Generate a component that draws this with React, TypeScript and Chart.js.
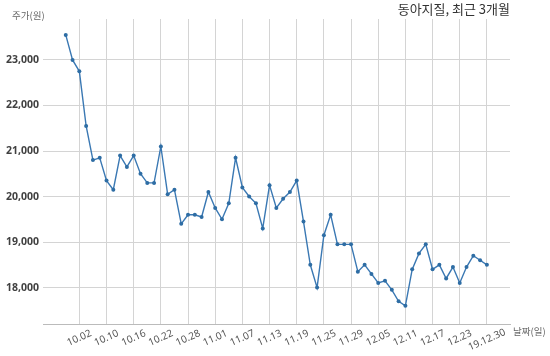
import React, { useEffect, useRef } from "react";
import { Chart, registerables } from "chart.js";

Chart.register(...registerables);

const dates = [
  "09.30", "10.01", "10.02", "10.04", "10.07", "10.08", "10.10", "10.11", "10.14", "10.15",
  "10.16", "10.17", "10.18", "10.21", "10.22", "10.23", "10.24", "10.25", "10.28", "10.29",
  "10.30", "10.31", "11.01", "11.04", "11.05", "11.06", "11.07", "11.08", "11.11", "11.12",
  "11.13", "11.14", "11.15", "11.18", "11.19", "11.20", "11.21", "11.22", "11.25", "11.26",
  "11.27", "11.28", "11.29", "12.02", "12.03", "12.04", "12.05", "12.06", "12.09", "12.10",
  "12.11", "12.12", "12.13", "12.16", "12.17", "12.18", "12.19", "12.20", "12.23", "12.24",
  "12.26", "12.27", "12.30",
];

const prices = [
  23550, 23000, 22750, 21550, 20800, 20850, 20350, 20150, 20900, 20650,
  20900, 20500, 20300, 20300, 21100, 20050, 20150, 19400, 19600, 19600,
  19550, 20100, 19750, 19500, 19850, 20850, 20200, 20000, 19850, 19300,
  20250, 19750, 19950, 20100, 20350, 19450, 18500, 18000, 19150, 19600,
  18950, 18950, 18950, 18350, 18500, 18300, 18100, 18150, 17950, 17700,
  17600, 18400, 18750, 18950, 18400, 18500, 18200, 18450, 18100, 18450,
  18700, 18600, 18500,
];

const tickDates = [
  "10.02", "10.10", "10.16", "10.22", "10.28", "11.01", "11.07", "11.13",
  "11.19", "11.25", "11.29", "12.05", "12.11", "12.17", "12.23", "12.30",
];
const tickLabels = [
  "10.02", "10.10", "10.16", "10.22", "10.28", "11.01", "11.07", "11.13",
  "11.19", "11.25", "11.29", "12.05", "12.11", "12.17", "12.23", "19.12.30",
];
const yTicks = [18000, 19000, 20000, 21000, 22000, 23000];

const titleText = "동아지질, 최근 3개월";
const yAxisTitle = "주가(원)";
const xAxisTitle = "날짜(일)";

const LINE_COLOR = "#3a78b3";
const POINT_COLOR = "#2e6da4";
const GRID_COLOR = "#d4d4d4";

export default function App() {
  const ref = useRef<HTMLCanvasElement | null>(null);

  useEffect(() => {
    if (!ref.current) return;
    const tickIdx = tickDates.map((d) => dates.indexOf(d));
    const points = prices.map((v, i) => ({ x: i, y: v }));

    const labelPlugin = {
      id: "labels",
      afterDraw(chart: any) {
        const ctx = chart.ctx as CanvasRenderingContext2D;
        const xs = chart.scales.x;
        const area = chart.chartArea;
        ctx.save();
        // x tick labels, rotated and centered on ticks
        ctx.font = '10px "Noto Sans", "Noto Sans CJK KR", sans-serif';
        ctx.fillStyle = "#555555";
        ctx.textAlign = "center";
        ctx.textBaseline = "middle";
        const ang = (-24 * Math.PI) / 180;
        tickIdx.forEach((idx, k) => {
          const px = xs.getPixelForValue(idx);
          const label = tickLabels[k];
          const w = ctx.measureText(label).width;
          const cy = area.bottom + 11 + (w / 2) * Math.sin(-ang) * 0.6;
          ctx.save();
          ctx.translate(px, cy);
          ctx.rotate(ang);
          ctx.fillText(label, 0, 0);
          ctx.restore();
        });
        // title
        ctx.font = '13px "Noto Sans CJK KR", sans-serif';
        ctx.fillStyle = "#333333";
        ctx.textAlign = "right";
        ctx.textBaseline = "middle";
        ctx.fillText(titleText, area.right, 9);
        // axis titles
        ctx.font = '9.5px "Noto Sans CJK KR", sans-serif';
        ctx.fillStyle = "#666666";
        ctx.textAlign = "left";
        ctx.fillText(yAxisTitle, 12, 15);
        ctx.fillText(xAxisTitle, area.right + 3, area.bottom + 7);
        ctx.restore();
      },
    };

    const chart = new Chart(ref.current, {
      type: "line",
      data: {
        datasets: [
          {
            data: points,
            borderColor: LINE_COLOR,
            backgroundColor: POINT_COLOR,
            borderWidth: 1.4,
            pointRadius: 2,
            pointBackgroundColor: POINT_COLOR,
            pointBorderColor: POINT_COLOR,
            pointBorderWidth: 0,
            tension: 0,
            fill: false,
          },
        ],
      },
      options: {
        responsive: false,
        animation: false,
        layout: { padding: { top: 19, right: 40, left: 0, bottom: 0 } },
        plugins: {
          legend: { display: false },
          title: { display: false },
          tooltip: { enabled: false },
        },
        scales: {
          x: {
            type: "linear",
            min: -3.35,
            max: 65.4,
            afterBuildTicks: (scale: any) => {
              scale.ticks = tickIdx.map((v) => ({ value: v }));
            },
            afterFit: (scale: any) => {
              scale.height = 32;
            },
            ticks: { display: false },
            grid: { color: GRID_COLOR, drawTicks: false, lineWidth: 1 },
            border: { display: true, color: "#bbbbbb", width: 1 },
          },
          y: {
            type: "linear",
            min: 17200,
            max: 23900,
            afterBuildTicks: (scale: any) => {
              scale.ticks = yTicks.map((v) => ({ value: v }));
            },
            afterFit: (scale: any) => {
              scale.width = 43;
            },
            ticks: {
              padding: 4,
              color: "#404040",
              font: { family: '"Noto Sans", sans-serif', size: 10.5, weight: "bold" },
              callback: (v: any) => Number(v).toLocaleString("en-US"),
            },
            grid: { color: GRID_COLOR, drawTicks: false, lineWidth: 1 },
            border: { display: false },
          },
        },
      },
      plugins: [labelPlugin],
    });
    return () => chart.destroy();
  }, []);

  return (
    <div style={{ position: "fixed", left: 0, top: 0, width: 550, height: 356, background: "#fff" }}>
      <canvas ref={ref} width={550} height={356} style={{ display: "block" }} />
    </div>
  );
}
